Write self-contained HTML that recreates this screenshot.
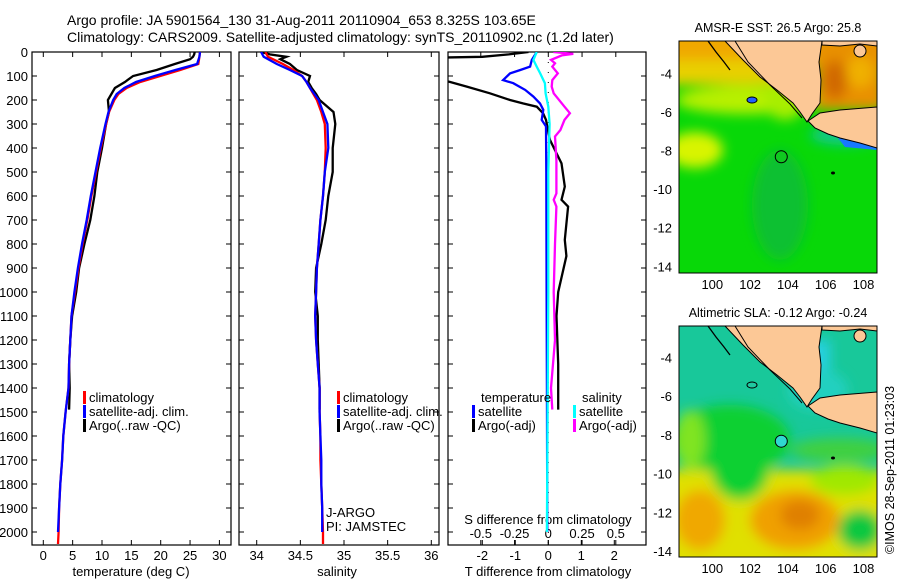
<!DOCTYPE html>
<html><head><meta charset="utf-8"><style>
html,body{margin:0;padding:0;background:#fff;}
svg{display:block;font-family:"Liberation Sans",sans-serif;}
</style></head><body>
<svg id="fig" width="900" height="580" viewBox="0 0 900 580" xmlns="http://www.w3.org/2000/svg">
<defs>
<clipPath id="c1"><rect x="32" y="52" width="199" height="493"/></clipPath>
<clipPath id="c2"><rect x="239" y="52" width="200" height="493"/></clipPath>
<clipPath id="c3"><rect x="448" y="52" width="198" height="493"/></clipPath>
<clipPath id="m1"><rect x="679" y="41" width="198" height="232"/></clipPath>
<clipPath id="m2"><rect x="679" y="326" width="198" height="231"/></clipPath>
<filter id="bl" x="-50%" y="-50%" width="200%" height="200%"><feGaussianBlur stdDeviation="6"/></filter>
</defs>
<text x="67" y="25" font-size="14">Argo profile: JA 5901564_130 31-Aug-2011 20110904_653 8.325S 103.65E</text>
<text x="67" y="42" font-size="14">Climatology: CARS2009. Satellite-adjusted climatology: synTS_20110902.nc (1.2d later)</text>
<g id="g"></g>
<!-- map 1 -->
<g clip-path="url(#m1)">
<rect x="679" y="41" width="198" height="232" fill="#08d808"/>
<g filter="url(#bl)">
<rect x="660" y="20" width="240" height="45" fill="#f0a800"/>
<rect x="660" y="60" width="140" height="25" fill="#e8d000"/>
<ellipse cx="745" cy="100" rx="70" ry="14" fill="#b8f000"/>
<ellipse cx="695" cy="150" rx="28" ry="18" fill="#d8f400"/>
<ellipse cx="785" cy="100" rx="20" ry="20" fill="#a8ee00"/>
<rect x="815" y="35" width="70" height="75" fill="#e89000"/>
<ellipse cx="835" cy="80" rx="12" ry="20" fill="#d06800"/>
<ellipse cx="860" cy="72" rx="14" ry="16" fill="#f0b000"/>
<ellipse cx="780" cy="205" rx="28" ry="55" fill="#10c030"/>
<ellipse cx="845" cy="135" rx="35" ry="10" fill="#10c890"/>
</g>
<polygon points="838,138 860,141 877,145 877,150 845,147" fill="#1878ff"/>
<g id="land1"></g>
</g>
<rect x="679" y="41" width="198" height="232" fill="none" stroke="#000"/>
<text x="778" y="32" font-size="12.5" text-anchor="middle">AMSR-E SST: 26.5 Argo: 25.8</text>
<!-- map 2 -->
<g clip-path="url(#m2)">
<rect x="679" y="326" width="198" height="231" fill="#18c89a"/>
<g filter="url(#bl)">
<rect x="800" y="340" width="30" height="60" fill="#28d0e0"/>
<ellipse cx="818" cy="390" rx="30" ry="20" fill="#20d0c0"/>
<ellipse cx="730" cy="440" rx="60" ry="35" fill="#10d030"/>
<ellipse cx="690" cy="440" rx="15" ry="30" fill="#80e420"/>
<ellipse cx="840" cy="450" rx="50" ry="12" fill="#40d040"/>
<rect x="660" y="470" width="240" height="100" fill="#e0e000"/>
<ellipse cx="740" cy="465" rx="30" ry="35" fill="#10d030"/>
<ellipse cx="700" cy="520" rx="25" ry="30" fill="#f0a800"/>
<ellipse cx="795" cy="520" rx="45" ry="30" fill="#f0a000"/>
<ellipse cx="800" cy="515" rx="20" ry="15" fill="#e08000"/>
<ellipse cx="860" cy="530" rx="22" ry="20" fill="#10c840"/>
<ellipse cx="845" cy="480" rx="35" ry="15" fill="#a0e800"/>
</g>
<g id="land2"></g>
</g>
<rect x="679" y="326" width="198" height="231" fill="none" stroke="#000"/>
<text x="778" y="317" font-size="12.5" text-anchor="middle">Altimetric SLA: -0.12 Argo: -0.24</text>
<text font-size="12.5" text-anchor="middle" transform="translate(894,470) rotate(-90)">©IMOS 28-Sep-2011 01:23:03</text>
</svg>
<script>
// ---- data ----
const depthTicks=[0,100,200,300,400,500,600,700,800,900,1000,1100,1200,1300,1400,1500,1600,1700,1800,1900,2000];
const tempTicks=[0,5,10,15,20,25,30];
const salTicks=[34,34.5,35,35.5,36];
const salTickLabels=["34","34.5","35","35.5","36"];
const dTTicks=[-2,-1,0,1,2];
const dSTicks=[-0.5,-0.25,0,0.25,0.5];
const dSTickLabels=["-0.5","-0.25","0","0.25","0.5"];
const climDepth=[0,20,50,75,100,125,150,175,200,250,300,400,500,600,700,800,900,1000,1100,1200,1300,1400,1500,1600,1700,1800,1900,2000,2050];
const climT=[26.7,26.6,26.4,23.3,19.9,16.5,14.2,12.8,12.1,11.2,10.7,9.8,9.0,8.2,7.5,6.7,6.0,5.4,4.8,4.6,4.4,4.3,3.8,3.4,3.2,2.9,2.7,2.6,2.5];
const climS=[34.1,34.13,34.30,34.42,34.52,34.57,34.61,34.65,34.69,34.74,34.78,34.79,34.78,34.76,34.73,34.71,34.69,34.68,34.67,34.68,34.70,34.72,34.72,34.73,34.73,34.74,34.75,34.76,34.76];
const satDepth=[0,20,50,75,100,125,150,175,200,250,300,400,500,600,700,800,900,1000,1100,1200,1300,1400,1500,1600,1700,1800,1900,2000];
const satT=[26.7,26.6,26.2,22.5,19.0,15.8,13.8,12.5,11.9,11.1,10.6,9.7,8.9,8.1,7.4,6.6,5.9,5.3,4.8,4.6,4.4,4.3,3.8,3.4,3.2,2.9,2.7,2.5];
const satS=[34.05,34.08,34.23,34.38,34.52,34.57,34.61,34.66,34.71,34.76,34.81,34.82,34.78,34.76,34.73,34.71,34.69,34.68,34.67,34.68,34.70,34.72,34.72,34.73,34.74,34.74,34.75,34.75];
const argoDepth=[0,10,20,30,50,75,100,125,150,175,200,250,300,400,500,600,700,800,900,1000,1100,1200,1300,1400,1490];
const argoT=[25.8,25.7,25.5,25.0,22.4,19.3,15.3,13.9,12.2,11.6,11.0,11.2,10.7,10.0,9.2,8.7,8.0,7.0,6.1,5.6,4.9,4.6,4.4,4.5,4.4];
const argoS=[34.05,34.15,34.34,34.27,34.38,34.46,34.61,34.59,34.63,34.68,34.72,34.88,34.90,34.87,34.87,34.82,34.79,34.74,34.68,34.67,34.70,34.70,34.71,34.72,34.72];
const satDTDepth=[0,33,61,75,89,117,130,158,186,214,241,283,310,500,1000,1500,2000];
const satDT=[-0.35,-0.5,-0.55,-0.85,-1.16,-1.37,-1.06,-0.7,-0.45,-0.25,-0.15,-0.2,-0.07,-0.06,-0.05,-0.04,-0.03];
const argoDTDepth=[0,10,20,25,100,124,144,172,200,214,228,255,283,366,422,464,561,616,644,783,850,1000,1100,1300,1490];
const argoDT=[-0.6,-1.2,-2.0,-4,-4,-3.0,-2.47,-1.77,-1.16,-0.77,-0.35,-0.16,-0.07,0.05,0.25,0.4,0.5,0.4,0.6,0.5,0.55,0.3,0.25,0.3,0.3];
const satDSDepth=[0,33,61,89,130,172,228,300,500,1000,1500,2000];
const satDS=[-0.086,-0.11,-0.086,-0.06,-0.025,-0.02,0,0.01,0,0,-0.005,-0.01];
const argoDSDepth=[0,8,14,33,47,61,89,117,144,172,228,255,283,325,352,450,589,616,644,800,1000,1200,1400,1490];
const argoDS=[0.037,0.185,0.1,0.02,0.05,0.03,0.07,0.03,0.025,0.04,0.12,0.16,0.12,0.09,0.05,0.06,0.06,0.04,0.06,0.05,0.04,0.05,0.02,0.03];
const latTicks=[-4,-6,-8,-10,-12,-14];
const lonTicks=[100,102,104,106,108];
const argoLon=103.65, argoLat=-8.325;

// ---- scales ----
const NS="http://www.w3.org/2000/svg";
const G=document.getElementById('g');
const yD=d=>52+d*0.24;
const xT=t=>43.3+t*5.87;
const xS=s=>256.7+(s-34)*87.3;
const xDT=t=>548.3+t*33;
const xDS=s=>548.3+s*135;
function el(tag,attrs,parent){const e=document.createElementNS(NS,tag);for(const k in attrs)e.setAttribute(k,attrs[k]);(parent||G).appendChild(e);return e;}
function txt(x,y,s,anchor,size,parent){const t=el('text',{x:x,y:y,'font-size':size||13,'text-anchor':anchor||'start'},parent);t.textContent=s;return t;}

const panels=[{x0:32,x1:231,clip:'c1',name:'temperature-panel'},{x0:239,x1:439,clip:'c2',name:'salinity-panel'},{x0:448,x1:646,clip:'c3',name:'difference-panel'}];
panels.forEach(p=>{
  const r=el('rect',{x:p.x0,y:52,width:p.x1-p.x0,height:493,fill:'none',stroke:'#000','stroke-width':1.2});
  
  
  depthTicks.forEach(d=>{
    el('line',{x1:p.x0,x2:p.x0+5,y1:yD(d),y2:yD(d),stroke:'#000'});
    el('line',{x1:p.x1-5,x2:p.x1,y1:yD(d),y2:yD(d),stroke:'#000'});
  });
});
depthTicks.forEach(d=>{
  const t=txt(28,yD(d)+5,String(d),'end',13);
  
  
});
tempTicks.forEach(v=>{const x=xT(v);el('line',{x1:x,x2:x,y1:52,y2:57,stroke:'#000'});el('line',{x1:x,x2:x,y1:540,y2:545,stroke:'#000'});
  const t=txt(x,560,String(v),'middle',13);});
salTicks.forEach((v,i)=>{const x=xS(v);el('line',{x1:x,x2:x,y1:52,y2:57,stroke:'#000'});el('line',{x1:x,x2:x,y1:540,y2:545,stroke:'#000'});
  const t=txt(x,560,salTickLabels[i],'middle',13);});
dTTicks.forEach(v=>{const x=xDT(v);el('line',{x1:x,x2:x,y1:540,y2:545,stroke:'#000'});
  const t=txt(x,560,String(v),'middle',13);});
dSTicks.forEach((v,i)=>{const x=xDS(v);el('line',{x1:x,x2:x,y1:52,y2:57,stroke:'#000'});el('line',{x1:x,x2:x,y1:540,y2:545,stroke:'#000'});
  const t=txt(x,538,dSTickLabels[i],'middle',13);});
let a;
a=txt(131,576,'temperature (deg C)','middle',13);
a=txt(337,576,'salinity','middle',13);
a=txt(548,576,'T difference from climatology','middle',13);
a=txt(548,524,'S difference from climatology','middle',13);
el('line',{x1:548.3,x2:548.3,y1:52,y2:545,stroke:'#000','stroke-dasharray':'1 9','stroke-width':1});

function series(xs,ds,xf,color,clip,name){
  const pts=xs.map((v,i)=>xf(v).toFixed(1)+','+yD(ds[i]).toFixed(1)).join(' ');
  const p=el('polyline',{points:pts,fill:'none',stroke:color,'stroke-width':2.3,'stroke-linejoin':'miter','clip-path':'url(#'+clip+')'});
  
  
}
series(argoT,argoDepth,xT,'#000','c1','argo-temperature-line');
series(climT,climDepth,xT,'#f00','c1','climatology-temperature-line');
series(satT,satDepth,xT,'#00f','c1','satellite-temperature-line');
series(argoS,argoDepth,xS,'#000','c2','argo-salinity-line');
series(climS,climDepth,xS,'#f00','c2','climatology-salinity-line');
series(satS,satDepth,xS,'#00f','c2','satellite-salinity-line');
series(argoDT,argoDTDepth,xDT,'#000','c3','argo-t-diff-line');
series(argoDS,argoDSDepth,xDS,'#f0f','c3','argo-s-diff-line');
series(satDT,satDTDepth,xDT,'#00f','c3','satellite-t-diff-line');
series(satDS,satDSDepth,xDS,'#0ff','c3','satellite-s-diff-line');

function leg(x,y,color,label,name){
  el('rect',{x:x,y:y-11,width:3,height:13,fill:color});
  const t=txt(x+6,y,label,'start',13);
  
  
}
leg(83,402,'#f00','climatology','legend-climatology');
leg(83,416,'#00f','satellite-adj. clim.','legend-satellite');
leg(83,430,'#000','Argo(..raw -QC)','legend-argo');
leg(337,402,'#f00','climatology','legend-climatology-2');
leg(337,416,'#00f','satellite-adj. clim.','legend-satellite-2');
leg(337,430,'#000','Argo(..raw -QC)','legend-argo-2');
a=txt(481,402,'temperature','start',13);
a=txt(582,402,'salinity','start',13);
leg(472,416,'#00f','satellite','legend-t-satellite');
leg(472,430,'#000','Argo(-adj)','legend-t-argo');
leg(573,416,'#0ff','satellite','legend-s-satellite');
leg(573,430,'#f0f','Argo(-adj)','legend-s-argo');
a=txt(326,517,'J-ARGO','start',13);
a=txt(326,531,'PI: JAMSTEC','start',13);

const maps=[{top:41,y4:73.3,ppd:19.3,land:'land1',bottom:273},{top:326,y4:357.5,ppd:19.35,land:'land2',bottom:557}];
const lonX=lon=>712.3+(lon-100)*18.9;
maps.forEach((m,mi)=>{
  const latY=lat=>m.y4+(-4-lat)*m.ppd;
  const off=m.top-41;
  const L=document.getElementById(m.land);
  const sum=el('polygon',{points:'725,41 743,60 760,77 777,90 793,103 800,112 807,122 812,114 820,103 821,80 819,62 822,41',fill:'#fcc896',stroke:'#000','stroke-width':1,transform:'translate(0,'+off+')'},L);
  
  const jav=el('polygon',{points:'808,121 820,113 840,110 877,107 877,148 860,143 840,138 828,134 815,128',fill:'#fcc896',stroke:'#000','stroke-width':1,transform:'translate(0,'+off+')'},L);
  
  el('polygon',{points:'822,41 877,41 877,46 860,44 840,46 822,45',fill:'#fcc896',stroke:'#000','stroke-width':1,transform:'translate(0,'+off+')'},L);
  el('ellipse',{cx:860,cy:51+off,rx:6,ry:6,fill:'#fcc896',stroke:'#000'},L);
  el('polyline',{points:'708,41 716,52 724,62 730,70',fill:'none',stroke:'#000','stroke-width':1.3,transform:'translate(0,'+off+')'},L);
  el('polyline',{points:'735,41 748,62 770,85 790,104 802,118',fill:'none',stroke:'#000','stroke-width':1,transform:'translate(0,'+off+')'},L);
  el('ellipse',{cx:752,cy:100+off,rx:5,ry:3,fill:mi==0?'#2060ff':'#20c8a0',stroke:'#000'},L);
  el('ellipse',{cx:833,cy:173+off,rx:2,ry:1.5,fill:'#000'},L);
  const c=el('circle',{cx:lonX(argoLon),cy:latY(argoLat),r:6,fill:mi==0?'#10c820':'#30d8d0',stroke:'#000','stroke-width':1},L);
  
  latTicks.forEach(lat=>{const y=latY(lat);
    el('line',{x1:679,x2:683,y1:y,y2:y,stroke:'#000'});el('line',{x1:873,x2:877,y1:y,y2:y,stroke:'#000'});
    const t=txt(672,y+5,String(lat),'end',13);});
  lonTicks.forEach(lon=>{const x=lonX(lon);
    el('line',{x1:x,x2:x,y1:m.top,y2:m.top+4,stroke:'#000'});el('line',{x1:x,x2:x,y1:m.bottom-4,y2:m.bottom,stroke:'#000'});
    const t=txt(x,m.bottom+16,String(lon),'middle',13);});
});
</script>
</body></html>
